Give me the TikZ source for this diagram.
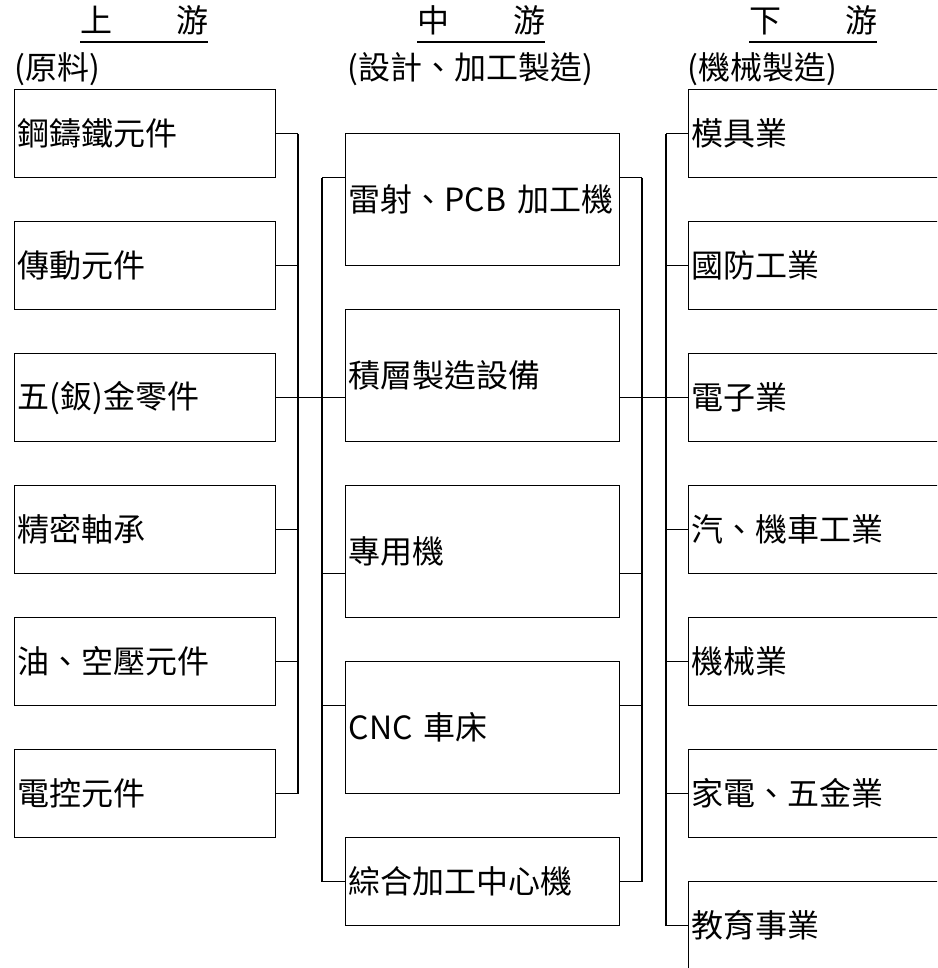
\documentclass[tikz,border=0pt]{standalone}
\usepackage{fontspec}
\setmainfont{Noto Sans CJK TC}
\usetikzlibrary{calc}
\begin{document}
\begin{tikzpicture}[x=1pt,y=-1pt,
  box/.style={draw,line width=1.3pt,rectangle,anchor=north west,inner xsep=3pt,inner ysep=0pt,align=left,font=\fontsize{32}{38}\selectfont},
  lbox/.style={box,minimum width=261pt,minimum height=88pt,text width=255pt},
  mbox/.style={box,minimum width=274pt,minimum height=132pt,text width=268pt},
  mboxs/.style={box,minimum width=274pt,minimum height=88pt,text width=268pt},
  rbox/.style={box,minimum width=272pt,minimum height=88pt,text width=266pt},
  head/.style={anchor=base west,inner sep=0pt,font=\fontsize{32}{38}\selectfont},
  wire/.style={line width=1.3pt}
]
\useasboundingbox (0,0) rectangle (937,968);
\clip (0,0) rectangle (937,968);

% headers
\node[head] (h1) at (80,33) {上　　游};
\node[head] (h2) at (417,33) {中　　游};
\node[head] (h3) at (749,33) {下　　游};
\draw[wire] ([yshift=-9pt]h1.base west) -- ([yshift=-9pt]h1.base east);
\draw[wire] ([yshift=-9pt]h2.base west) -- ([yshift=-9pt]h2.base east);
\draw[wire] ([yshift=-9pt]h3.base west) -- ([yshift=-9pt]h3.base east);
\node[head] (s1) at (14,80) {(原料)};
\node[head] (s2) at (347,80) {(設計、加工製造)};
\node[head] (s3) at (687,80) {(機械製造)};

% upstream
\node[lbox] (L1) at (14,89)  {鋼鑄鐵元件};
\node[lbox] (L2) at (14,221) {傳動元件};
\node[lbox] (L3) at (14,353) {五(鈑)金零件};
\node[lbox] (L4) at (14,485) {精密軸承};
\node[lbox] (L5) at (14,617) {油、空壓元件};
\node[lbox] (L6) at (14,749) {電控元件};

% midstream
\node[mbox]  (M1) at (345,133) {雷射、PCB 加工機};
\node[mbox]  (M2) at (345,309) {積層製造設備};
\node[mbox]  (M3) at (345,485) {專用機};
\node[mbox]  (M4) at (345,661) {CNC 車床};
\node[mboxs] (M5) at (345,837) {綜合加工中心機};

% downstream
\node[rbox] (R1) at (688,89)  {模具業};
\node[rbox] (R2) at (688,221) {國防工業};
\node[rbox] (R3) at (688,353) {電子業};
\node[rbox] (R4) at (688,485) {汽、機車工業};
\node[rbox] (R5) at (688,617) {機械業};
\node[rbox] (R6) at (688,749) {家電、五金業};
\node[rbox] (R7) at (688,881) {教育事業};

% bus coordinates
\coordinate (lb)  at (298,0);
\coordinate (mlb) at (322,0);
\coordinate (mrb) at (642,0);
\coordinate (rb)  at (666,0);

% left bus
\draw[wire] (L1.east -| lb) -- (L6.east -| lb);
\foreach \n in {L1,L2,L4,L5,L6}
  \draw[wire] (\n.east) -- (\n.east -| lb);
\draw[wire] (L3.east) -- (L3.east -| M2.west);

% middle left bus
\coordinate (m1l) at ([yshift=22pt]M1.west);
\coordinate (m3l) at ([yshift=-22pt]M3.west);
\coordinate (m4l) at ([yshift=22pt]M4.west);
\draw[wire] (m1l -| mlb) -- (M5.west -| mlb);
\draw[wire] (m1l) -- (m1l -| mlb);
\draw[wire] (m3l) -- (m3l -| mlb);
\draw[wire] (m4l) -- (m4l -| mlb);
\draw[wire] (M5.west) -- (M5.west -| mlb);

% middle right bus
\coordinate (m1r) at ([yshift=22pt]M1.east);
\coordinate (m3r) at ([yshift=-22pt]M3.east);
\coordinate (m4r) at ([yshift=22pt]M4.east);
\draw[wire] (m1r -| mrb) -- (M5.east -| mrb);
\draw[wire] (m1r) -- (m1r -| mrb);
\draw[wire] (m3r) -- (m3r -| mrb);
\draw[wire] (m4r) -- (m4r -| mrb);
\draw[wire] (M5.east) -- (M5.east -| mrb);
\draw[wire] (M2.east |- R3.west) -- (R3.west);

% right bus
\draw[wire] (R1.west -| rb) -- (R7.west -| rb);
\foreach \n in {R1,R2,R4,R5,R6,R7}
  \draw[wire] (\n.west) -- (\n.west -| rb);
\end{tikzpicture}
\end{document}
